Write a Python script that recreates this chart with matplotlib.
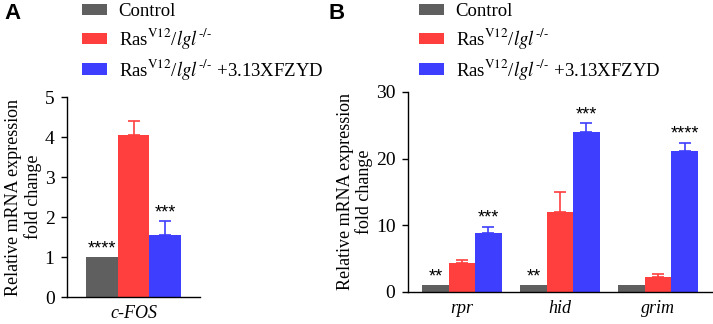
import matplotlib
matplotlib.use('Agg')
import matplotlib.pyplot as plt
from matplotlib.patches import Patch
import numpy as np

plt.rcParams['font.family'] = 'Liberation Serif'
plt.rcParams['mathtext.fontset'] = 'stix'

# data
groups = ['Control', 'Ras$^{\\mathrm{V12}}$/$\\mathit{lgl}^{\\mathit{‐/‐}}$',
          'Ras$^{\\mathrm{V12}}$/$\\mathit{lgl}^{\\mathit{‐/‐}}$ +3.13XFZYD']
colors = ['#5f5f5f', '#ff3e3e', '#3e3eff']

genes_a = ['c-FOS']
vals_a = [1.0, 4.05, 1.55]
errs_a = [0.0, 0.35, 0.35]
stars_a = ['****', '', '***']

genes_b = ['rpr', 'hid', 'grim']
vals_b = {
    'Control': [1.0, 1.0, 1.0],
    'Ras': [4.3, 12.0, 2.3],
    'Ras+X': [8.9, 24.0, 21.1],
}
errs_b = {
    'Control': [0.0, 0.0, 0.0],
    'Ras': [0.5, 3.0, 0.4],
    'Ras+X': [0.9, 1.3, 1.3],
}
stars_b = {
    'Control': ['**', '**', ''],
    'Ras': ['', '', ''],
    'Ras+X': ['***', '***', '****'],
}

fig = plt.figure(figsize=(7.13, 3.24), dpi=100)

def style(ax):
    ax.spines['top'].set_visible(False)
    ax.spines['right'].set_visible(False)
    ax.spines['left'].set_linewidth(1.0)
    ax.spines['bottom'].set_linewidth(1.0)
    ax.tick_params(axis='y', labelsize=14, length=4, width=1, pad=5)
    ax.tick_params(axis='x', length=0, pad=6)
    ax.set_ylabel('Relative mRNA expression\nfold change', fontsize=13, labelpad=2, linespacing=1.12)

# panel A
axA = fig.add_axes([67/713, 1-297/324, 133/713, 200/324])
for i in range(3):
    axA.bar(i, vals_a[i], width=1.0, color=colors[i], edgecolor='none')
    if errs_a[i] > 0:
        axA.errorbar(i, vals_a[i], yerr=[[0], [errs_a[i]]], color=colors[i],
                     capsize=4, elinewidth=1.2, capthick=1.2, fmt='none')
    if stars_a[i]:
        axA.text(i, vals_a[i] + errs_a[i], stars_a[i], ha='center', va='bottom',
                 fontsize=13, family='Liberation Sans')
axA.set_ylim(0, 5)
axA.set_yticks([0, 1, 2, 3, 4, 5])
axA.set_xlim(-1.1, 3.1)
axA.set_xticks([1])
axA.set_xticklabels(genes_a, fontsize=13, style='italic')
style(axA)

# panel B
axB = fig.add_axes([408/713, 1-292/324, 304/713, 200/324])
x = np.arange(len(genes_b))
w = 0.27
keys = ['Control', 'Ras', 'Ras+X']
for k, key in enumerate(keys):
    pos = x + (k - 1) * w
    axB.bar(pos, vals_b[key], width=w, color=colors[k], edgecolor='none')
    for j in range(len(genes_b)):
        e = errs_b[key][j]
        if e > 0:
            axB.errorbar(pos[j], vals_b[key][j], yerr=[[0], [e]], color=colors[k],
                         capsize=4, elinewidth=1.2, capthick=1.2, fmt='none')
        if stars_b[key][j]:
            axB.text(pos[j], vals_b[key][j] + e, stars_b[key][j], ha='center', va='bottom',
                     fontsize=13, family='Liberation Sans')
axB.set_ylim(0, 30)
axB.set_yticks([0, 10, 20, 30])
axB.set_xlim(-0.55, 2.55)
axB.set_xticks(x)
axB.set_xticklabels(genes_b, fontsize=13, style='italic')
style(axB)

# legends
handles = [Patch(facecolor=c, edgecolor='none') for c in colors]
for xa in [69/713, 406/713]:
    fig.legend(handles, groups, loc='upper left', bbox_to_anchor=(xa, 1.03),
               frameon=False, fontsize=13.5, handlelength=1.3, handleheight=0.55,
               handletextpad=0.65, labelspacing=0.3, borderpad=0.2)

fig.text(4/713, 1-3/324, 'A', fontsize=16, fontweight='bold', family='Liberation Sans', va='top')
fig.text(329/713, 1-3/324, 'B', fontsize=16, fontweight='bold', family='Liberation Sans', va='top')

fig.savefig('out.png', dpi=100)
